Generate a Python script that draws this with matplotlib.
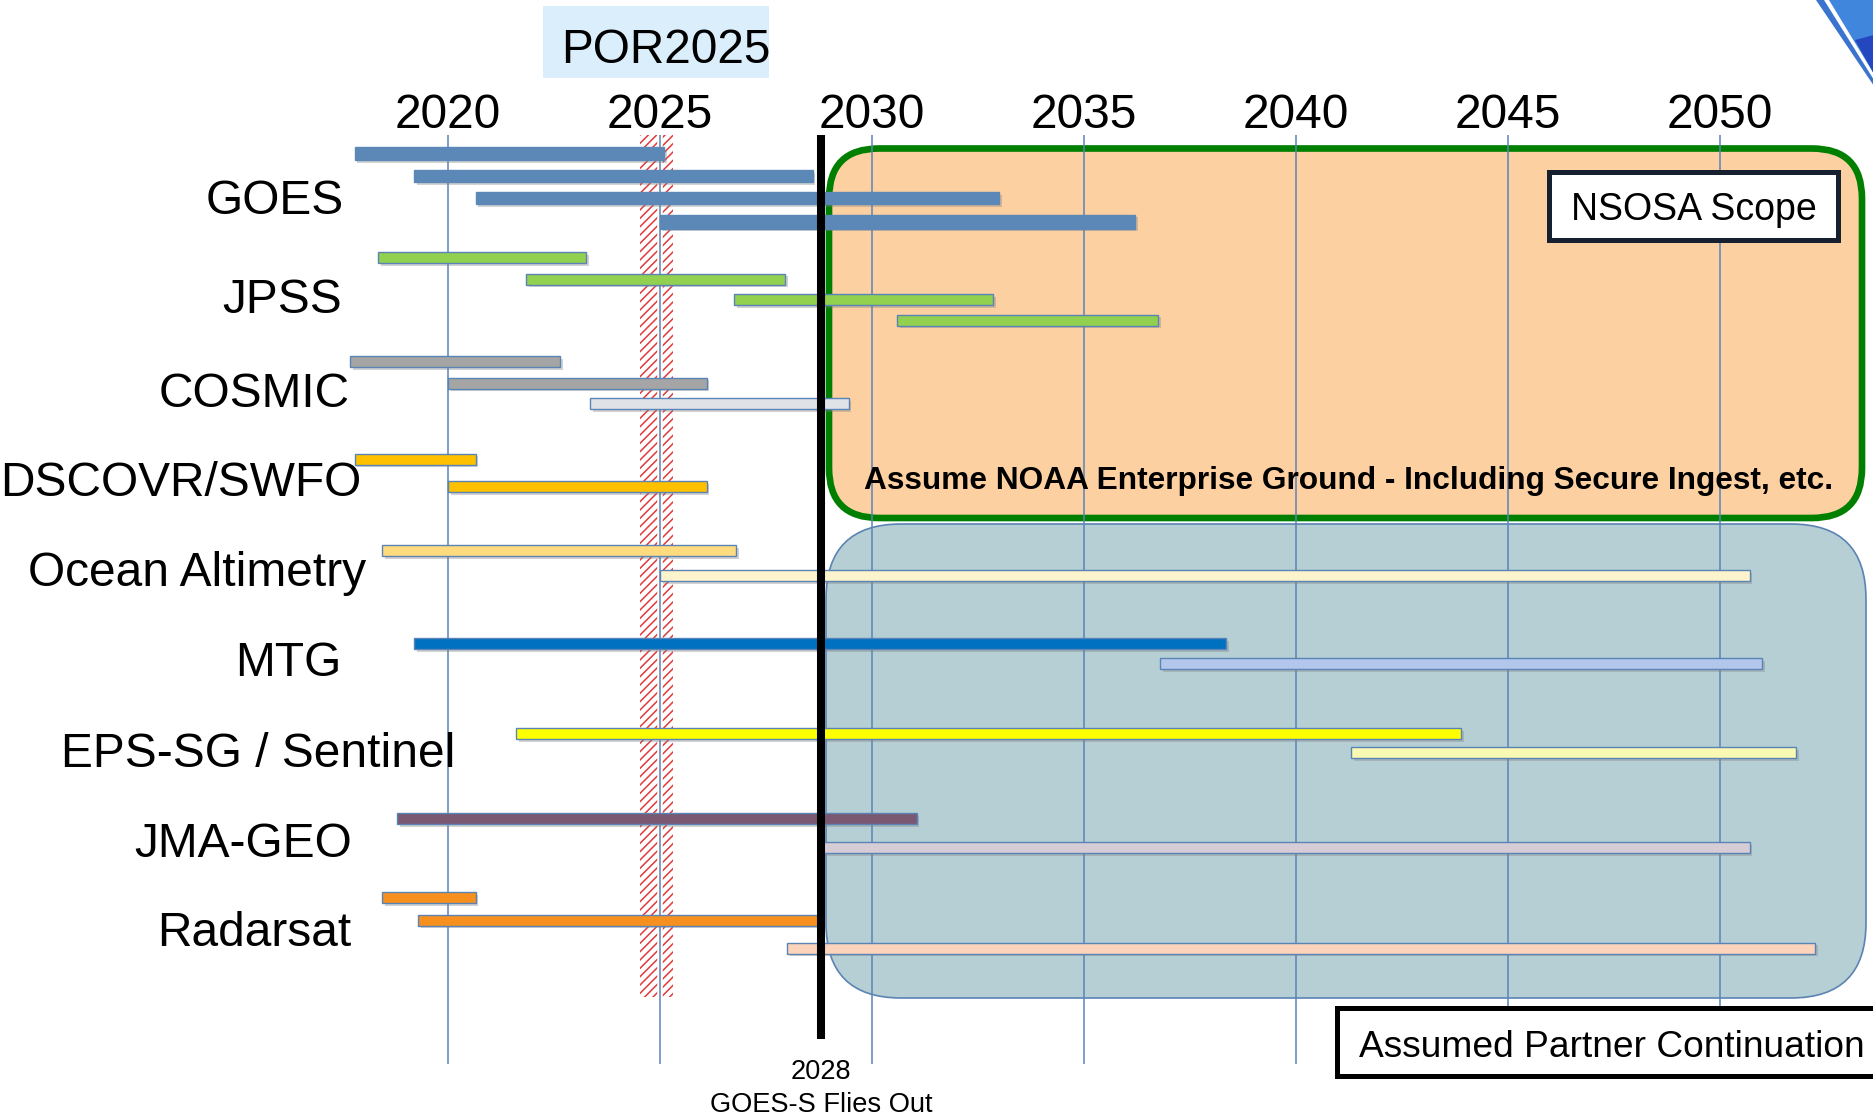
import matplotlib
matplotlib.use("Agg")
import matplotlib.pyplot as plt
from matplotlib.patches import FancyBboxPatch, Rectangle, Polygon
from matplotlib.transforms import Affine2D
import matplotlib.patheffects as pe

# ---------------- data ----------------
categories = ["GOES", "JPSS", "COSMIC", "DSCOVR/SWFO", "Ocean Altimetry",
              "MTG", "EPS-SG / Sentinel", "JMA-GEO", "Radarsat"]

# one entry per bar: category index, start year, end year
bar_category = [0, 0, 0, 0,
                1, 1, 1, 1,
                2, 2, 2,
                3, 3,
                4, 4,
                5, 5,
                6, 6,
                7, 7,
                8, 8, 8]
bar_start = [2017.8, 2019.2, 2020.65, 2025.0,
             2018.35, 2021.85, 2026.75, 2030.6,
             2017.7, 2020.0, 2023.35,
             2017.8, 2020.0,
             2018.45, 2025.0,
             2019.2, 2036.8,
             2021.6, 2041.3,
             2018.8, 2028.85,
             2018.45, 2019.3, 2028.0]
bar_end = [2025.1, 2028.6, 2033.0, 2036.2,
           2023.25, 2027.95, 2032.85, 2036.75,
           2022.65, 2026.1, 2029.45,
           2020.65, 2026.1,
           2026.8, 2050.7,
           2038.35, 2051.0,
           2043.9, 2051.8,
           2031.05, 2050.7,
           2020.65, 2028.75, 2052.25]

year_ticks = [2020, 2025, 2030, 2035, 2040, 2045, 2050]
goes_s_flyout = 2028.8
por_band = (2024.53, 2025.30)

# ---------------- styles / layout ----------------
bar_colors = ["#5b88b6"] * 4 + ["#92d050"] * 4 + \
             ["#a5a5a5", "#a5a5a5", "#dfe3e8"] + ["#ffc000"] * 2 + \
             ["#ffdb7f", "#fdf3cc"] + ["#0070c0", "#b3c6ec"] + \
             ["#ffff00", "#f9f9b3"] + ["#7a5872", "#d6ccd6"] + \
             ["#f7901e", "#f7901e", "#fcd3bb"]
bar_edges = ["#5b88b6"] * 4 + ["#5a83b6"] * 20

# vertical lane positions (pixels from top) and heights
bar_lane_y = [153.7, 176, 198, 221.7,
              257.7, 279, 299.7, 320,
              361.7, 383, 403.7,
              459, 486.7,
              550.3, 575.3,
              643.3, 663.7,
              733.3, 752.8,
              818.7, 847.3,
              897.7, 920, 948]
bar_lane_h = [12.5, 12.5, 12.5, 14] + [11] * 20

label_x = [275, 282, 254, 181, 197, 288, 258, 243, 254]
label_base = [214, 313, 407, 496.5, 586.5, 676.5, 767, 857, 946.5]

W, H = 1874, 1117
DPI = 100
PX_PER_YEAR = 42.4
X0 = 2020 - 448 / PX_PER_YEAR
X1 = X0 + W / PX_PER_YEAR

plt.rcParams["font.family"] = ["Liberation Sans", "DejaVu Sans"]
plt.rcParams["hatch.linewidth"] = 1.1

fig = plt.figure(figsize=(W / DPI, H / DPI), dpi=DPI)
fig.patch.set_facecolor("white")
ax = fig.add_axes([0, 0, 1, 1])
ax.set_xlim(X0, X1)
ax.set_ylim(H, 0)
ax.axis("off")

px = Affine2D().scale(1, -1).translate(0, H)  # pixel coords, origin top-left

# ---- background regions ----
teal = FancyBboxPatch((826, 524), 1866 - 826, 998 - 524,
                      boxstyle="round,pad=0,rounding_size=75",
                      fc="#b6cfd4", ec="#5b83b3", lw=1.2, transform=px,
                      zorder=0.9, clip_on=False)
ax.add_patch(teal)
orange = FancyBboxPatch((829, 148.5), 1862 - 829, 518 - 148.5,
                        boxstyle="round,pad=0,rounding_size=50",
                        fc="#fcd0a1", ec="#007f00", lw=4.8, transform=px,
                        zorder=1, clip_on=False)
ax.add_patch(orange)

# ---- POR hatched band ----
ax.add_patch(Rectangle((por_band[0], 135), por_band[1] - por_band[0], 997 - 135,
                       fc="white", ec="#e03a3a", hatch="////", lw=0, zorder=1.5))

# ---- grid lines ----
for t in year_ticks:
    effects = None
    if por_band[0] <= t <= por_band[1]:
        effects = [pe.Stroke(linewidth=4, foreground="white"), pe.Normal()]
    ax.plot([t, t], [135, 1064], color="#5b84b6", lw=1.1, zorder=2,
            solid_capstyle="butt", path_effects=effects)
    ax.text(t, 128.3, str(t), ha="center", va="baseline", fontsize=34.5,
            color="black", zorder=6)

# ---- bars ----
widths = [e - s for s, e in zip(bar_start, bar_end)]
bars = ax.barh(bar_lane_y, widths, left=bar_start, height=bar_lane_h,
               color=bar_colors, edgecolor=bar_edges, linewidth=1.0, zorder=3)
for b in bars:
    b.set_path_effects([pe.SimplePatchShadow(offset=(2, -2), shadow_rgbFace="#808080",
                                             alpha=0.35), pe.Normal()])

# ---- GOES-S fly-out line ----
ax.plot([goes_s_flyout, goes_s_flyout], [135, 1039], color="black", lw=5.8,
        solid_capstyle="butt", zorder=4)
ax.text(goes_s_flyout, 1079.3, "2028", ha="center", va="baseline",
        fontsize=19.6, zorder=6)
ax.text(goes_s_flyout, 1111.7, "GOES-S Flies Out", ha="center", va="baseline",
        fontsize=19.6, zorder=6)

# ---- category labels ----
for name, lx, lb in zip(categories, label_x, label_base):
    ax.text(lx, lb, name, ha="center", va="baseline", fontsize=34.5,
            transform=px, zorder=6)

# ---- POR2025 header ----
ax.add_patch(Rectangle((542.6, 6), 226.4, 71.7, fc="#dbeefc", ec="none",
                       transform=px, zorder=1, clip_on=False))
ax.text(666, 63.3, "POR2025", ha="center", va="baseline", fontsize=34.4,
        transform=px, zorder=6)

# ---- NSOSA Scope box ----
ax.add_patch(Rectangle((1549, 172), 289, 68, fc="white", ec="#17202e", lw=3.6,
                       transform=px, zorder=5, clip_on=False))
ax.text(1693.5, 220, "NSOSA Scope", ha="center", va="baseline", fontsize=27,
        transform=px, zorder=6)

# ---- Enterprise ground text ----
ax.text(1349, 488.8, "Assume NOAA Enterprise Ground - Including Secure Ingest, etc.",
        ha="center", va="baseline", fontsize=22.8, fontweight="bold",
        transform=px, zorder=6)

# ---- Assumed Partner Continuation box ----
ax.add_patch(Rectangle((1337, 1008), 580, 68, fc="white", ec="black", lw=3.6,
                       transform=px, zorder=5, clip_on=False))
ax.text(1358.6, 1056.7, "Assumed Partner Continuation", ha="left", va="baseline",
        fontsize=26.7, transform=px, zorder=6)

# ---- decorative corner swoosh ----
ax.add_patch(Polygon([(1816, 0), (1824, 0), (1874, 80), (1874, 86)], closed=True,
                     fc="#3a74cf", ec="none", transform=px, zorder=6, clip_on=False))
ax.add_patch(Polygon([(1829, 0), (1874, 0), (1874, 74)], closed=True,
                     fc="#3f86dc", ec="none", transform=px, zorder=6, clip_on=False))
ax.add_patch(Polygon([(1855, 40), (1874, 35), (1874, 74)], closed=True,
                     fc="#2447c0", ec="none", transform=px, zorder=6, clip_on=False))

fig.savefig("out.png", dpi=DPI, facecolor="white")
